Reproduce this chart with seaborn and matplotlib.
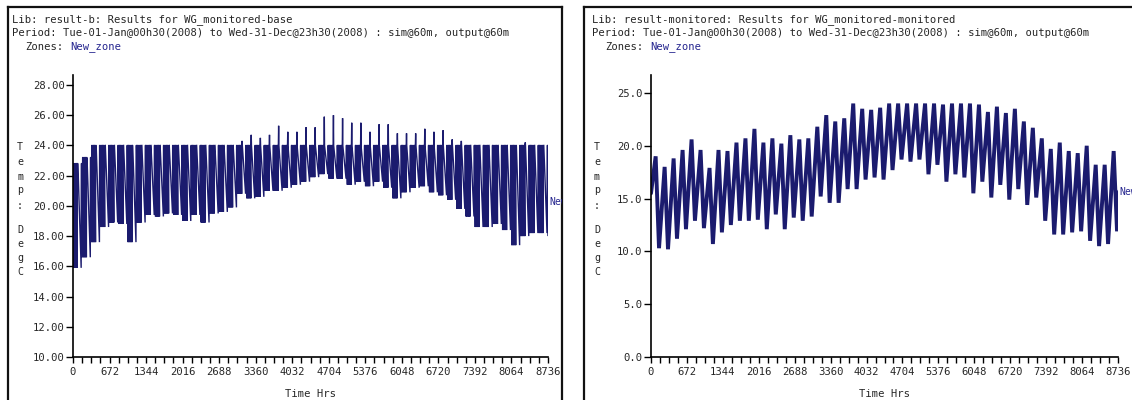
import numpy as np
import pandas as pd
import matplotlib
matplotlib.use("Agg")
import matplotlib.pyplot as plt
import seaborn as sns

W, H = 1132, 400

# weekly readings (week = Tue 00h .. Mon 23h, 2008)
# base case: heating held at 24 C in occupied hours
left_start = 16.8
left_end = 20.3
left_cap = 24.0
left_peak = [22.8, 23.2, 24.0, 24.0, 24.0, 24.0, 24.0, 24.0, 24.0, 24.0,
             24.0, 24.0, 24.0, 24.0, 24.0, 24.0, 24.0, 24.0, 24.3, 24.7,
             24.5, 24.7, 25.3, 24.9, 24.9, 25.2, 25.2, 25.9, 26.0, 25.8,
             25.5, 25.5, 24.9, 25.4, 25.4, 24.8, 24.8, 24.8, 25.1, 24.9,
             25.0, 24.4, 24.3, 24.0, 24.0, 24.0, 24.0, 24.0, 24.0, 24.2,
             24.0, 24.0, 24.0]
left_trough = [15.9, 16.6, 17.6, 18.6, 18.9, 18.8, 17.6, 18.9, 19.4, 19.3,
               19.5, 19.4, 19.0, 19.4, 18.9, 19.5, 19.6, 19.9, 20.8, 20.5,
               20.6, 21.0, 21.0, 21.2, 21.4, 21.6, 21.9, 22.1, 21.8, 21.8,
               21.4, 21.6, 21.3, 21.6, 21.2, 20.5, 20.9, 21.2, 21.3, 20.9,
               20.7, 20.4, 19.8, 19.3, 18.6, 18.6, 18.8, 18.4, 17.4, 18.0,
               18.2, 18.2, 18.0]

# monitored case: free running, Friday peak / Monday morning low
right_start = 15.5
right_end = 15.7
right_peak = [19.0, 18.0, 18.8, 19.6, 20.6, 19.6, 17.9, 19.6, 19.5, 20.3,
              20.7, 21.6, 20.3, 20.7, 20.2, 21.0, 20.6, 20.7, 21.8, 22.9,
              22.3, 22.6, 24.0, 23.5, 23.4, 23.6, 24.0, 24.0, 24.0, 24.0,
              24.0, 24.0, 23.9, 24.0, 24.0, 24.0, 23.9, 23.2, 23.7, 23.1,
              23.5, 22.3, 21.7, 20.7, 19.7, 20.3, 19.5, 19.3, 20.0, 18.2,
              18.2, 19.5]
right_trough = [10.3, 10.2, 11.2, 12.1, 12.9, 12.2, 10.7, 11.8, 12.5, 12.9,
                12.9, 13.0, 12.1, 13.5, 12.1, 13.2, 12.9, 13.3, 15.2, 14.6,
                14.6, 15.9, 15.9, 16.8, 17.0, 16.8, 17.7, 18.7, 18.5, 18.7,
                17.3, 18.2, 16.6, 17.3, 17.0, 15.5, 16.6, 15.1, 16.3, 14.9,
                15.9, 14.4, 15.1, 12.9, 11.6, 11.6, 11.8, 11.9, 11.0, 10.5,
                10.7, 11.9]

x_major = np.arange(0, 8737, 672)
x_minor = np.arange(0, 8737, 168)
left_yticks = np.arange(10, 29, 2)
right_yticks = np.arange(0, 26, 5)

headers = [
    ("Lib: result-b: Results for WG_monitored-base",
     "Period: Tue-01-Jan@00h30(2008) to Wed-31-Dec@23h30(2008) : sim@60m, output@60m"),
    ("Lib: result-monitored: Results for WG_monitored-monitored",
     "Period: Tue-01-Jan@00h30(2008) to Wed-31-Dec@23h30(2008) : sim@60m, output@60m"),
]

LINE = "#1b1b6e"
ZONE = "#25258f"
last_hour = 8760


def base_series(start, peak, trough, cap, end):
    hrs, vals = [0], [start]
    for w, (pk, lo) in enumerate(zip(peak, trough)):
        top = min(pk, cap)
        b = 168 * w
        for d in range(4):  # Tue..Fri
            hrs += [b + 24 * d + 6, b + 24 * d + 9]
            vals += [lo, top]
            if d == 3 and pk > cap:
                hrs.append(b + 24 * d + 14)
                vals.append(pk)
            hrs.append(b + 24 * d + 18)
            vals.append(top)
        # weekend decay, Monday morning low, Monday at setpoint
        hrs += [b + 150, b + 153, b + 162]
        vals += [lo, top, top]
    df = pd.DataFrame({"hour": hrs, "temp": vals})
    df = df[df.hour < last_hour]
    return pd.concat([df, pd.DataFrame({"hour": [last_hour], "temp": [end]})])


def free_series(start, peak, trough, end):
    hrs, vals = [0], [start]
    for w, (pk, lo) in enumerate(zip(peak, trough)):
        hrs += [168 * w + 87, 168 * w + 150]
        vals += [pk, lo]
    hrs.append(last_hour)
    vals.append(end)
    return pd.DataFrame({"hour": hrs, "temp": vals})


left_df = base_series(left_start, left_peak, left_trough, left_cap, left_end)
right_df = free_series(right_start, right_peak, right_trough, right_end)

sns.set_style("white")
plt.rcParams["font.family"] = ["DejaVu Sans Mono"]
FS = 7.6

fig = plt.figure(figsize=(W / 100, H / 100), dpi=100)

panels = [
    dict(box=(8, 562), ax_x=(73, 548), df=left_df, lw=1.0, ylim=(10, 28.66),
         yticks=left_yticks, fmt="{:.2f}", end=left_end, ylab_x=20, hdr_x=12),
    dict(box=(584, 1140), ax_x=(651, 1118), df=right_df, lw=2.8, ylim=(0, 26.7),
         yticks=right_yticks, fmt="{:.1f}", end=right_end, ylab_x=597, hdr_x=592),
]

ylab_y = [147, 162, 177, 190, 206, 230, 244, 258, 272]
ax_top, ax_bot = 75, 357

for p, (lib, period) in zip(panels, headers):
    bx0, bx1 = p["box"]
    frame = fig.add_axes([bx0 / W, 0, (bx1 - bx0) / W, (H - 7) / H])
    frame.set_xlim(bx0, bx1)
    frame.set_ylim(H, 7)
    frame.set_xticks([])
    frame.set_yticks([])
    for side in ["top", "left", "right"]:
        frame.spines[side].set_linewidth(1.6)
        frame.spines[side].set_color("#111111")
    frame.spines["bottom"].set_visible(False)

    hx = p["hdr_x"]
    frame.text(hx, 20, lib, fontsize=FS, va="center", ha="left")
    frame.text(hx, 33, period, fontsize=FS, va="center", ha="left")
    frame.text(hx + 13.5, 47, "Zones:", fontsize=FS, va="center", ha="left")
    frame.text(hx + 13.5 + 44.6, 47, "New_zone", fontsize=FS, va="center",
               ha="left", color=ZONE)
    for ch, yy in zip("Temp:DegC", ylab_y):
        frame.text(p["ylab_x"], yy, ch, fontsize=FS - 0.4, va="center",
                   ha="center")

    x0, x1 = p["ax_x"]
    ax = fig.add_axes([x0 / W, (H - ax_bot) / H, (x1 - x0) / W,
                       (ax_bot - ax_top) / H])
    ax.patch.set_alpha(0)
    sns.lineplot(data=p["df"], x="hour", y="temp", ax=ax, color=LINE,
                 linewidth=p["lw"], estimator=None, sort=False,
                 solid_joinstyle="miter")
    ax.set_xlim(0, 8736)
    ax.set_ylim(*p["ylim"])
    ax.set_xticks(x_major)
    ax.set_xticks(x_minor, minor=True)
    ax.set_xticklabels([str(v) for v in x_major], fontsize=FS)
    ax.set_yticks(p["yticks"])
    ax.set_yticklabels([p["fmt"].format(v) for v in p["yticks"]], fontsize=FS)
    ax.tick_params(axis="both", which="both", direction="out", color="black",
                   width=1.0, bottom=True, left=True)
    ax.tick_params(axis="x", which="both", length=4.5, pad=2.5)
    ax.tick_params(axis="y", length=5, pad=1)
    ax.set_xlabel("Time Hrs", fontsize=FS, labelpad=9)
    ax.set_ylabel("")
    for side in ["top", "right"]:
        ax.spines[side].set_visible(False)
    for side in ["left", "bottom"]:
        ax.spines[side].set_linewidth(1.2)
        ax.spines[side].set_color("black")

    lbl = ax.text(last_hour + 10, p["end"], "New_zone", fontsize=FS - 0.6,
                  color=ZONE, va="center", ha="left", clip_on=True)
    lbl.set_clip_box(frame.bbox)

fig.savefig("out.png", dpi=100)
